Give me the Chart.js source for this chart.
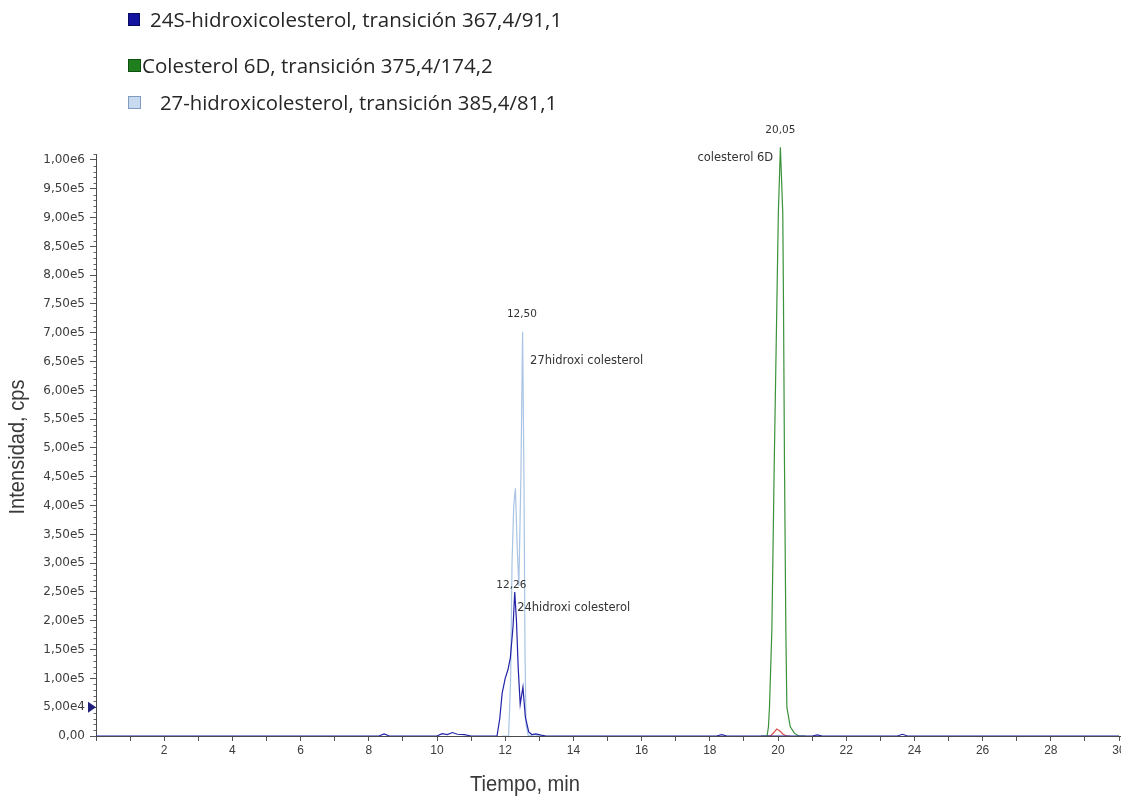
<!DOCTYPE html>
<html>
<head>
<meta charset="utf-8">
<script src="https://cdn.jsdelivr.net/npm/chart.js@4.4.0/dist/chart.umd.min.js"></script>
<style>
html,body{margin:0;padding:0;background:#fff;overflow:hidden;width:1121px;height:798px}
#wrap{position:absolute;left:0;top:0;width:1161px;height:798px}
</style>
</head>
<body>
<div id="wrap"><canvas id="c"></canvas></div>
<script>
// ---- series labels (legend) ----
const seriesLabels = [
  '24S-hidroxicolesterol, transición 367,4/91,1',
  'Colesterol 6D, transición 375,4/174,2',
  '27-hidroxicolesterol, transición 385,4/81,1'
];

// ---- 24S-hidroxicolesterol (dark blue) ----
const blueTimes  = [0, 8.3, 8.45, 8.6, 10.0, 10.15, 10.3, 10.45, 10.6, 10.8, 11.0, 11.76, 11.84, 11.91, 12.00, 12.08, 12.15, 12.23, 12.28, 12.33, 12.38, 12.44, 12.52, 12.59, 12.69, 12.78, 12.9, 13.05, 13.2, 18.2, 18.35, 18.5, 21.0, 21.15, 21.3, 23.5, 23.65, 23.8, 30];
const blueValues = [0, 0, 3500, 0, 0, 4000, 2500, 6000, 3000, 2500, 0, 0, 30000, 74000, 100000, 115000, 135000, 190000, 250000, 200000, 120000, 55000, 85000, 33000, 7000, 2500, 3500, 1500, 0, 0, 2500, 0, 0, 2000, 0, 0, 3000, 0, 0];

// ---- Colesterol 6D (green) ----
const greenTimes  = [19.5, 19.68, 19.72, 19.75, 19.82, 19.89, 19.97, 20.01, 20.07, 20.14, 20.16, 20.19, 20.23, 20.26, 20.36, 20.48, 20.6, 20.8];
const greenValues = [0, 0, 16000, 50000, 184000, 474000, 762000, 908000, 1022000, 908000, 762000, 474000, 184000, 50000, 16000, 5000, 0, 0];

// ---- 27-hidroxicolesterol (light blue) ----
const lightTimes  = [11.9, 12.10, 12.16, 12.20, 12.25, 12.30, 12.35, 12.40, 12.46, 12.51, 12.55, 12.58, 12.61, 12.68, 12.85, 13.0];
const lightValues = [0, 0, 100000, 300000, 400000, 430000, 330000, 260000, 450000, 702000, 450000, 150000, 20000, 0, 2500, 0];

// ---- unlabelled red trace ----
const redTimes  = [19.7, 19.78, 19.88, 19.96, 20.05, 20.15, 20.25, 20.35];
const redValues = [0, 0, 6000, 12000, 9000, 3000, 0, 0];

// ---- axis ticks ----
const yTickStep = 50000;
const yTickMax = 1000000;
const yMinorStep = 10000;
const xTickStep = 1;
const xLabelEvery = 2;

// ---- peak annotations (time, intensity, text, align) ----
const annTexts  = ['20,05', 'colesterol 6D', '12,50', '27hidroxi colesterol', '12,26', '24hidroxi colesterol'];
const annTimes  = [20.07, 19.86, 12.49, 12.73, 12.18, 12.35];
const annValues = [1052000, 1003000, 733000, 651000, 262000, 222000];
const annAlign  = ['center', 'right', 'center', 'left', 'center', 'left'];

const marker = 50000;

function pts(t, v){ return t.map((x,i)=>({x:x, y:v[i]})); }

function fmtY(v){
  if (Math.abs(v) < 1e-9) return '0,00';
  const e = Math.floor(Math.log10(v) + 1e-9);
  const m = v / Math.pow(10, e);
  return m.toFixed(2).replace('.', ',') + 'e' + e;
}

const deco = {
  id: 'deco',
  afterDatasetsDraw(chart){
    const {ctx, chartArea:a, scales:{x, y}} = chart;
    ctx.save();
    const yb = Math.round(y.getPixelForValue(0)) + 0.5;
    ctx.strokeStyle = '#4a4a4a'; ctx.lineWidth = 1;
    ctx.beginPath(); ctx.moveTo(a.left, yb); ctx.lineTo(a.right + 10, yb); ctx.stroke();
    ctx.strokeStyle = '#666';
    ctx.beginPath();
    for (let v = yMinorStep; v <= y.max; v += yMinorStep){
      if (v % yTickStep === 0) continue;
      const py = Math.round(y.getPixelForValue(v)) + 0.5;
      ctx.moveTo(a.left - 2.5, py); ctx.lineTo(a.left, py);
    }
    ctx.stroke();
    const pm = y.getPixelForValue(marker);
    ctx.fillStyle = '#20207a';
    ctx.beginPath();
    ctx.moveTo(a.left - 8, pm - 5.5); ctx.lineTo(a.left - 8, pm + 5.5); ctx.lineTo(a.left, pm); ctx.closePath();
    ctx.fill();
    ctx.fillStyle = '#333';
    ctx.textBaseline = 'middle';
    annTexts.forEach((t, i) => {
      const isNum = t.indexOf('hidroxi') < 0 && /^\d/.test(t);
      ctx.font = isNum ? '10.5px "DejaVu Sans"' : '11.5px "DejaVu Sans"';
      ctx.textAlign = annAlign[i];
      ctx.fillText(t, x.getPixelForValue(annTimes[i]), y.getPixelForValue(annValues[i]));
    });
    ctx.restore();
  },
  afterDraw(chart){
    const {ctx} = chart;
    ctx.save();
    const boxes = [
      {x:128, y:13, w:12, h:13, fill:'#1414a0', stroke:'#0a0a60', tx:150, ty:20, tw:417},
      {x:128, y:59, w:13, h:13, fill:'#1f7f1f', stroke:'#0f4f0f', tx:142, ty:66, tw:378},
      {x:128, y:96, w:13, h:13, fill:'#c7daf0', stroke:'#7f9cc0', tx:160, ty:103, tw:397}
    ];
    ctx.textBaseline = 'middle';
    ctx.textAlign = 'left';
    boxes.forEach((b, i) => {
      ctx.fillStyle = b.fill; ctx.fillRect(b.x, b.y, b.w, b.h);
      ctx.strokeStyle = b.stroke; ctx.lineWidth = 1; ctx.strokeRect(b.x + 0.5, b.y + 0.5, b.w - 1, b.h - 1);
      ctx.fillStyle = '#262626';
      ctx.font = '20.5px "Open Sans"';
      ctx.fillText(seriesLabels[i], b.tx, b.ty + 1, b.tw);
    });
    ctx.fillStyle = '#3a3a3a';
    ctx.font = '22px "Liberation Sans"';
    ctx.textAlign = 'center';
    ctx.fillText('Tiempo, min', 525, 785, 110);
    ctx.translate(18, 447);
    ctx.rotate(-Math.PI / 2);
    ctx.fillText('Intensidad, cps', 0, 0, 135);
    ctx.restore();
  }
};

const lineDs = (label, t, v, color, order) => ({
  label, data: pts(t, v), borderColor: color, backgroundColor: color,
  borderWidth: 1.2, pointRadius: 0, tension: 0, fill: false, clip: false, order
});

new Chart(document.getElementById('c'), {
  type: 'line',
  data: {
    datasets: [
      lineDs(seriesLabels[0], blueTimes, blueValues, '#2222a8', 1),
      lineDs('', redTimes, redValues, '#d9534f', 2),
      lineDs(seriesLabels[1], greenTimes, greenValues, '#3a923a', 3),
      lineDs(seriesLabels[2], lightTimes, lightValues, '#a9c4e4', 4)
    ]
  },
  options: {
    responsive: true,
    maintainAspectRatio: false,
    animation: false,
    layout: { padding: { top: 154, right: 42, left: 0, bottom: 0 } },
    plugins: { legend: { display: false }, tooltip: { enabled: false } },
    scales: {
      x: {
        type: 'linear', min: 0, max: 30,
        afterFit(s){ s.height = 62; },
        border: { display: true, color: '#4a4a4a', width: 1 },
        grid: { display: true, drawOnChartArea: false, drawTicks: true, tickLength: 5, tickColor: '#555' },
        ticks: {
          stepSize: xTickStep, autoSkip: false, maxRotation: 0, padding: 2,
          color: '#3c3c3c', font: { family: '"Liberation Sans"', size: 12 },
          callback: (v) => (v > 0 && v % xLabelEvery === 0) ? String(v) : ''
        }
      },
      y: {
        type: 'linear', min: 0, max: 1010400,
        afterFit(s){ s.width = 96; },
        afterBuildTicks(s){
          const t = [];
          for (let v = 0; v <= yTickMax; v += yTickStep) t.push({ value: v });
          s.ticks = t;
        },
        border: { display: true, color: '#4a4a4a', width: 1 },
        grid: { display: true, drawOnChartArea: false, drawTicks: true, tickLength: 6, tickColor: '#555' },
        ticks: {
          autoSkip: false, padding: 5,
          color: '#3c3c3c', font: { family: '"DejaVu Sans"', size: 12 },
          callback: (v) => fmtY(v)
        }
      }
    }
  },
  plugins: [deco]
});
</script>
</body>
</html>
